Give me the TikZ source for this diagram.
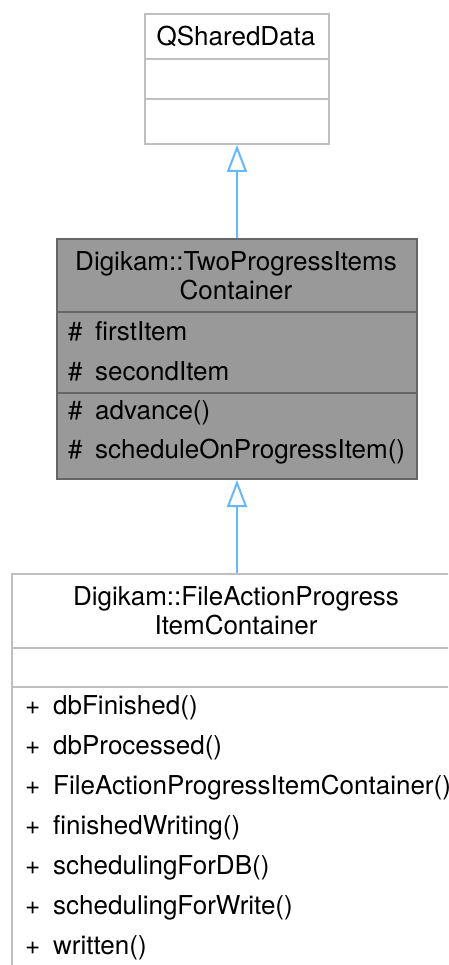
\documentclass[tikz,border=0pt]{standalone}
\usepackage{fontspec}
\setmainfont{TeX Gyre Heros}
\usetikzlibrary{arrows.meta}
\definecolor{lightborder}{HTML}{BFBFBF}
\definecolor{darkborder}{HTML}{666666}
\definecolor{darkfill}{HTML}{999999}
\definecolor{inheritblue}{HTML}{63B8FF}
\tikzset{
  lightbox/.style={draw=lightborder, fill=white, line width=2pt, inner sep=0pt, anchor=north west},
  darkbox/.style={draw=darkborder, fill=darkfill, line width=2pt, inner sep=0pt, anchor=north west},
  lightline/.style={draw=lightborder, line width=2pt},
  darkline/.style={draw=darkborder, line width=2pt},
  txt/.style={inner sep=0pt, anchor=base, font=\fontsize{26}{30}\selectfont},
  ltxt/.style={inner sep=0pt, anchor=base west, font=\fontsize{26}{30}\selectfont},
  inherit/.style={draw=inheritblue, line width=2pt, -{Triangle[open, length=27pt, width=20pt, line width=2pt]}},
}
\begin{document}
\begin{tikzpicture}[x=1pt, y=-1pt]
\clip (0,0) rectangle (448,965);
\fill[white] (0,0) rectangle (448,965);
% QSharedData
\node[lightbox, minimum width=184pt, minimum height=130pt] (qs) at (144,13) {};
\draw[lightline] (144,59) -- (328,59);
\draw[lightline] (144,99) -- (328,99);
\node[txt] (qst) at (236,46) {QSharedData};
% TwoProgressItemsContainer
\node[darkbox, minimum width=360pt, minimum height=240pt] (two) at (56,238) {};
\draw[darkline] (56,312) -- (416,312);
\draw[darkline] (56,393) -- (416,393);
\node[txt] (twot1) at (236,271) {Digikam::TwoProgressItems};
\node[txt] (twot2) at (236,299) {Container};
\node[ltxt] (twoa1) at (68,340) {\#};
\node[ltxt] (twob1) at (95,340) {firstItem};
\node[ltxt] (twoa2) at (68,380) {\#};
\node[ltxt] (twob2) at (95,380) {secondItem};
\node[ltxt] (twoa3) at (68,419) {\#};
\node[ltxt] (twob3) at (95,419) {advance()};
\node[ltxt] (twoa4) at (68,458) {\#};
\node[ltxt] (twob4) at (95,458) {scheduleOnProgressItem()};
% FileActionProgressItemContainer
\node[lightbox, minimum width=450pt, minimum height=420pt] (fa) at (11,573) {};
\draw[lightline] (11,648) -- (461,648);
\draw[lightline] (11,687) -- (461,687);
\node[txt] (fat1) at (236,605) {Digikam::FileActionProgress};
\node[txt] (fat2) at (236,634) {ItemContainer};
\foreach \i/\t in {0/dbFinished(),1/dbProcessed(),2/FileActionProgressItemContainer(),3/finishedWriting(),4/schedulingForDB(),5/schedulingForWrite(),6/written()}{
  \node[ltxt] (fap\i) at (25,714+40*\i) {+};
  \node[ltxt] (fam\i) at (53,714+40*\i) {\t};
}
% inheritance
\draw[inherit] (two.north -| qs.south) -- (qs.south);
\draw[inherit] (fa.north -| two.south) -- (two.south);
\end{tikzpicture}
\end{document}
